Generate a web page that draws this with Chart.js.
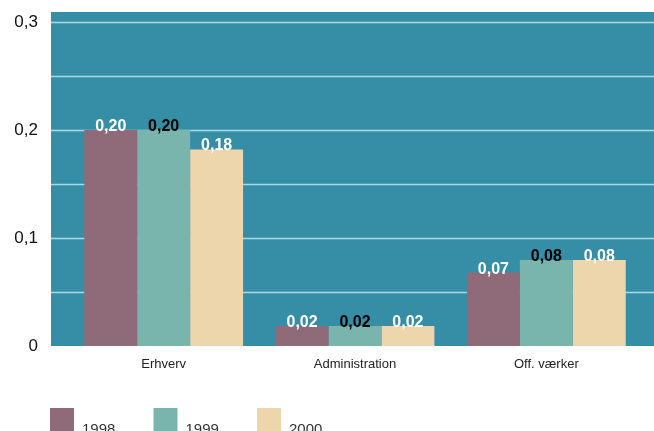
<!DOCTYPE html>
<html>
<head>
<meta charset="utf-8">
<script src="https://cdn.jsdelivr.net/npm/chart.js@4/dist/chart.umd.min.js"></script>
<style>
  html, body { margin: 0; padding: 0; background: #fff; }
  #wrap { width: 654px; height: 431px; }
</style>
</head>
<body>
<div id="wrap"><canvas id="chart" width="654" height="431"></canvas></div>
<script>
// Data
const categories = ['Erhverv', 'Administration', 'Off. værker'];
const years = ['1998', '1999', '2000'];
const values1998 = [0.200, 0.0185, 0.068];
const values1999 = [0.200, 0.0185, 0.0796];
const values2000 = [0.182, 0.0185, 0.0796];
const yTicks = [0, 0.1, 0.2, 0.3];

const colors = ['#8f6a78', '#79b5ac', '#edd6ab'];
const labelColors = ['#ffffff', '#000000', '#ffffff'];
const narrow = '"Liberation Sans Narrow", "Arial Narrow", "Liberation Sans", Arial, sans-serif';

// teal plot background + light gridlines, wider than the bar area
const backdrop = {
  id: 'backdrop',
  beforeDatasetsDraw(chart) {
    const ctx = chart.ctx;
    const y = chart.scales.y;
    const area = chart.chartArea;
    ctx.save();
    ctx.fillStyle = '#368ea6';
    ctx.fillRect(51, 12, 654 - 51, area.bottom - 12);
    ctx.strokeStyle = '#a9dbe4';
    ctx.lineWidth = 1.5;
    y.ticks.forEach(t => {
      if (t.value === 0) return;
      const py = Math.round(y.getPixelForValue(t.value)) + 0.5;
      ctx.beginPath();
      ctx.moveTo(51, py);
      ctx.lineTo(654, py);
      ctx.stroke();
    });
    ctx.restore();
  }
};

// value labels on top of each bar
const valueLabels = {
  id: 'valueLabels',
  afterDatasetsDraw(chart) {
    const ctx = chart.ctx;
    ctx.save();
    ctx.font = 'bold 16px ' + narrow;
    ctx.textAlign = 'center';
    ctx.textBaseline = 'alphabetic';
    chart.data.datasets.forEach((ds, i) => {
      const meta = chart.getDatasetMeta(i);
      ctx.fillStyle = labelColors[i];
      meta.data.forEach((bar, j) => {
        const txt = ds.data[j].toFixed(2).replace('.', ',');
        ctx.fillText(txt, bar.x, bar.y + 1);
      });
    });
    ctx.restore();
  }
};

// legend at the bottom, squares with text set lower
const bottomLegend = {
  id: 'bottomLegend',
  afterDraw(chart) {
    const ctx = chart.ctx;
    ctx.save();
    ctx.font = '15px "Liberation Sans", Arial, sans-serif';
    ctx.textBaseline = 'alphabetic';
    chart.data.datasets.forEach((ds, i) => {
      const x = 50 + i * 103.5;
      ctx.fillStyle = ds.backgroundColor;
      ctx.fillRect(x, 408, 24, 30);
      ctx.fillStyle = '#333';
      ctx.fillText(ds.label, x + 32, 434);
    });
    ctx.restore();
  }
};

new Chart(document.getElementById('chart').getContext('2d'), {
  type: 'bar',
  data: {
    labels: categories,
    datasets: [
      { label: years[0], data: values1998, backgroundColor: colors[0] },
      { label: years[1], data: values1999, backgroundColor: colors[1] },
      { label: years[2], data: values2000, backgroundColor: colors[2] }
    ]
  },
  options: {
    responsive: false,
    animation: false,
    events: [],
    layout: { padding: { top: 22, right: 12, bottom: 0, left: 0 } },
    datasets: {
      bar: { categoryPercentage: 0.83, barPercentage: 1.0, borderWidth: 0 }
    },
    plugins: {
      legend: { display: false },
      tooltip: { enabled: false },
      title: { display: false }
    },
    scales: {
      x: {
        grid: { display: false, drawTicks: false },
        border: { display: false },
        ticks: {
          color: '#222',
          padding: 11,
          font: { family: '"Liberation Sans", Arial, sans-serif', size: 13 }
        },
        afterFit(scale) { scale.height = 85; }
      },
      y: {
        min: 0,
        max: 0.3,
        grid: { display: false, drawTicks: false },
        border: { display: false },
        ticks: {
          stepSize: 0.05,
          padding: 30,
          color: '#111',
          font: { family: narrow, size: 17 },
          callback(v) {
            const hit = yTicks.find(t => Math.abs(t - v) < 1e-6);
            if (hit === undefined) return '';
            return hit === 0 ? '0' : String(hit).replace('.', ',');
          }
        },
        // fixed width, and no extra room reserved above/below for labels
        afterFit(scale) {
          scale.width = 68;
          scale.paddingTop = 0;
          scale.paddingBottom = 0;
        }
      }
    }
  },
  plugins: [backdrop, valueLabels, bottomLegend]
});
</script>
</body>
</html>
